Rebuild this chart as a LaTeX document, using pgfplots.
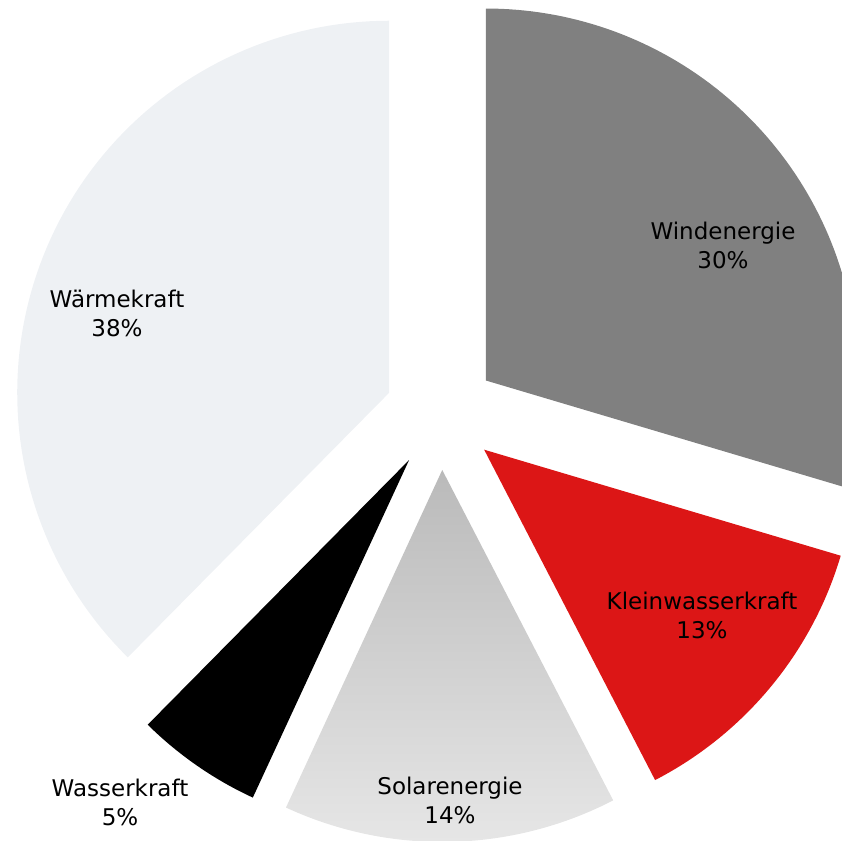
\documentclass[border=0pt]{standalone}
\usepackage{pgfplots}
\pgfplotsset{compat=1.18}
\usepackage{pgfplotstable}
\usepackage{fontspec}
\setmainfont{DejaVu Sans}
\definecolor{windc}{HTML}{808080}
\definecolor{kleinc}{HTML}{DC1616}
\definecolor{solartop}{HTML}{BABABA}
\definecolor{solarbot}{HTML}{E6E6E6}
\definecolor{wasserc}{HTML}{000000}
\definecolor{waermec}{HTML}{EEF1F4}
% shares in percent, clockwise from 12 o'clock
\pgfplotstableread{
name value
Windenergie 29.6
Kleinwasserkraft 12.8
Solarenergie 14.5
Wasserkraft 5.5
Waermekraft 37.6
}\piedata
\def\R{372}
\def\D{56}
\newcommand{\slice}[3]{%
  \pgfmathsetmacro\sa{90-3.6*(#1)}%
  \pgfmathsetmacro\sb{90-3.6*((#1)+(#2))}%
  \pgfmathsetmacro\sm{(\sa+\sb)/2}%
  \pgfmathsetmacro\ox{\D*cos(\sm)}%
  \pgfmathsetmacro\oy{\D*sin(\sm)}%
  \edef\tmp{\noexpand\addplot[#3, draw=none, domain=\sb:\sa, samples=90] ({\ox+\R*cos(x)},{\oy+\R*sin(x)}) -- (axis cs:\ox,\oy) -- cycle;}%
  \tmp
}
\begin{document}
\begin{tikzpicture}
\begin{axis}[hide axis, scale only axis, width=842pt, height=840pt,
  xmin=-441, xmax=401, ymin=-426, ymax=414, clip=true]
\pgfplotstablegetelem{0}{value}\of\piedata \edef\vA{\pgfplotsretval}
\pgfplotstablegetelem{1}{value}\of\piedata \edef\vB{\pgfplotsretval}
\pgfplotstablegetelem{2}{value}\of\piedata \edef\vC{\pgfplotsretval}
\pgfplotstablegetelem{3}{value}\of\piedata \edef\vD{\pgfplotsretval}
\pgfplotstablegetelem{4}{value}\of\piedata \edef\vE{\pgfplotsretval}
\slice{0}{\vA}{fill=windc}
\slice{\vA}{\vB}{fill=kleinc}
\slice{\vA+\vB}{\vC}{top color=solartop, bottom color=solarbot}
\slice{\vA+\vB+\vC}{\vD}{fill=wasserc}
\slice{\vA+\vB+\vC+\vD}{\vE}{fill=waermec}
\begin{scope}[every node/.style={align=center, font=\fontsize{23}{29}\selectfont, text=black}]
\node at (axis cs:282,169) {Windenergie\\30\%};
\node at (axis cs:261,-201) {Kleinwasserkraft\\13\%};
\node at (axis cs:9,-386) {Solarenergie\\14\%};
\node at (axis cs:-321,-388) {Wasserkraft\\5\%};
\node at (axis cs:-324,101) {Wärmekraft\\38\%};
\end{scope}
\end{axis}
\pgfresetboundingbox
\path (current axis.south west) rectangle (current axis.north east);
\end{tikzpicture}
\end{document}
